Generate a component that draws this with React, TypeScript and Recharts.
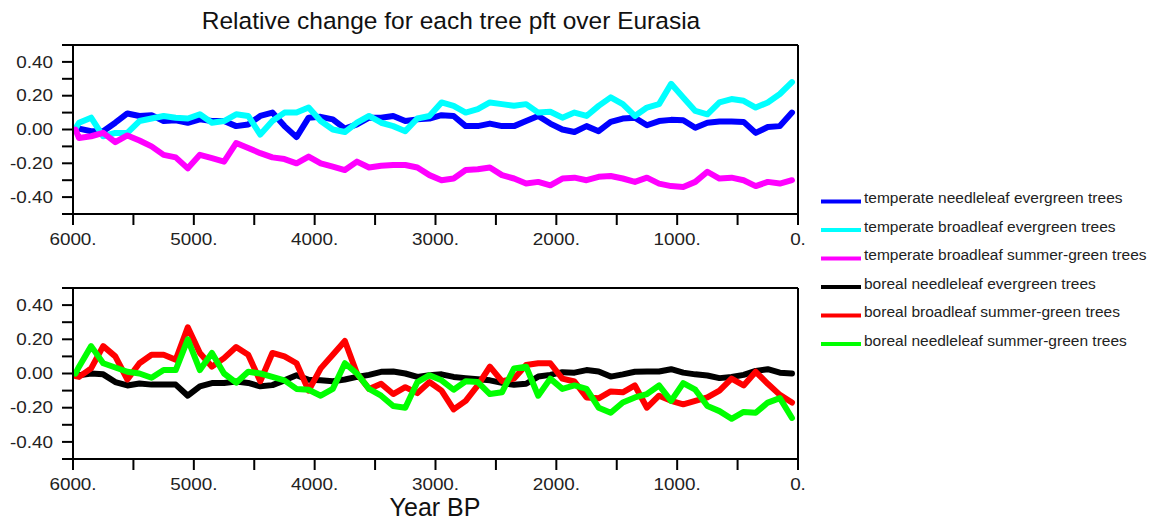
import React from 'react';
import { LineChart, Line, XAxis, YAxis } from 'recharts';

// Year BP sample positions (categories)
const years = [5980, 5950, 5850, 5750, 5650, 5550, 5450, 5350, 5250, 5150, 5050, 4950, 4850, 4750, 4650, 4550, 4450, 4350, 4250, 4150, 4050, 3950, 3850, 3750, 3650, 3550, 3450, 3350, 3250, 3150, 3050, 2950, 2850, 2750, 2650, 2550, 2450, 2350, 2250, 2150, 2050, 1950, 1850, 1750, 1650, 1550, 1450, 1350, 1250, 1150, 1050, 950, 850, 750, 650, 550, 450, 350, 250, 150, 50];

// Top panel series
const tempNeedleEvergreen = [0.005, 0.005, -0.01, -0.01, 0.04, 0.095, 0.08, 0.085, 0.05, 0.055, 0.04, 0.06, 0.05, 0.05, 0.02, 0.03, 0.08, 0.1, 0.02, -0.045, 0.07, 0.075, 0.06, 0.005, 0.03, 0.07, 0.07, 0.08, 0.05, 0.06, 0.065, 0.085, 0.08, 0.02, 0.02, 0.035, 0.02, 0.02, 0.05, 0.08, 0.035, 0.0, -0.015, 0.02, -0.01, 0.045, 0.065, 0.07, 0.025, 0.05, 0.057, 0.055, 0.01, 0.04, 0.047, 0.047, 0.045, -0.02, 0.015, 0.02, 0.1];
const tempBroadEvergreen = [0.005, 0.04, 0.07, -0.04, -0.02, -0.02, 0.05, 0.065, 0.08, 0.07, 0.065, 0.09, 0.04, 0.05, 0.09, 0.08, -0.03, 0.05, 0.1, 0.1, 0.13, 0.05, 0.0, -0.015, 0.04, 0.08, 0.04, 0.02, -0.01, 0.065, 0.08, 0.16, 0.14, 0.1, 0.12, 0.16, 0.15, 0.14, 0.15, 0.1, 0.105, 0.07, 0.1, 0.08, 0.14, 0.19, 0.15, 0.08, 0.13, 0.15, 0.27, 0.19, 0.11, 0.09, 0.16, 0.18, 0.17, 0.13, 0.16, 0.21, 0.28];
const tempBroadSummer = [0.0, -0.05, -0.04, -0.02, -0.075, -0.035, -0.065, -0.1, -0.15, -0.165, -0.23, -0.15, -0.17, -0.19, -0.08, -0.11, -0.14, -0.165, -0.175, -0.2, -0.16, -0.2, -0.22, -0.24, -0.19, -0.225, -0.215, -0.21, -0.21, -0.225, -0.27, -0.3, -0.29, -0.24, -0.235, -0.225, -0.27, -0.29, -0.32, -0.31, -0.33, -0.29, -0.285, -0.3, -0.28, -0.275, -0.29, -0.31, -0.285, -0.32, -0.335, -0.34, -0.31, -0.25, -0.29, -0.285, -0.3, -0.335, -0.31, -0.32, -0.3];

// Bottom panel series
const borealNeedleEvergreen = [-0.01, -0.01, 0.0, -0.005, -0.05, -0.07, -0.058, -0.065, -0.065, -0.065, -0.13, -0.075, -0.056, -0.055, -0.047, -0.055, -0.075, -0.068, -0.04, -0.01, -0.037, -0.04, -0.045, -0.035, -0.02, -0.008, 0.01, 0.012, 0.0, -0.02, -0.01, -0.005, -0.02, -0.027, -0.033, -0.04, -0.055, -0.066, -0.06, -0.018, -0.008, 0.008, 0.005, 0.02, 0.012, -0.018, -0.005, 0.01, 0.012, 0.012, 0.025, 0.005, -0.005, -0.012, -0.027, -0.02, -0.008, 0.015, 0.025, 0.005, 0.0];
const borealBroadSummer = [-0.015, -0.02, 0.03, 0.16, 0.1, -0.035, 0.06, 0.11, 0.11, 0.08, 0.27, 0.12, 0.04, 0.09, 0.155, 0.11, -0.045, 0.12, 0.1, 0.06, -0.1, 0.03, 0.11, 0.19, 0.0, -0.09, -0.06, -0.12, -0.08, -0.115, -0.05, -0.1, -0.21, -0.16, -0.07, 0.04, -0.045, -0.03, 0.05, 0.06, 0.06, -0.03, -0.047, -0.14, -0.145, -0.105, -0.11, -0.07, -0.2, -0.13, -0.16, -0.18, -0.16, -0.14, -0.1, -0.03, -0.07, 0.01, -0.06, -0.125, -0.17];
const borealNeedleSummer = [0.0, 0.04, 0.16, 0.06, 0.035, 0.01, 0.0, -0.025, 0.02, 0.02, 0.2, 0.02, 0.12, 0.0, -0.054, 0.01, 0.0, -0.02, -0.04, -0.09, -0.095, -0.13, -0.09, 0.06, 0.0, -0.09, -0.13, -0.19, -0.2, -0.05, -0.01, -0.04, -0.095, -0.045, -0.05, -0.12, -0.11, 0.03, 0.04, -0.13, -0.03, -0.09, -0.07, -0.09, -0.2, -0.23, -0.17, -0.14, -0.12, -0.07, -0.16, -0.056, -0.095, -0.19, -0.22, -0.265, -0.225, -0.23, -0.17, -0.144, -0.26];

const xTicks = [0, 500, 1000, 1500, 2000, 2500, 3000, 3500, 4000, 4500, 5000, 5500, 6000];
const yTicks = [-0.5, -0.4, -0.3, -0.2, -0.1, 0, 0.1, 0.2, 0.3, 0.4, 0.5];
const yLabelled = [-0.4, -0.2, 0, 0.2, 0.4];

const title = 'Relative change for each tree pft over Eurasia';
const xTitle = 'Year BP';

const topSeries = [
  { key: 'tne', name: 'temperate needleleaf evergreen trees', color: '#0000ff', values: tempNeedleEvergreen },
  { key: 'tbe', name: 'temperate broadleaf evergreen trees', color: '#00ffff', values: tempBroadEvergreen },
  { key: 'tbs', name: 'temperate broadleaf summer-green trees', color: '#ff00ff', values: tempBroadSummer },
];
const bottomSeries = [
  { key: 'bne', name: 'boreal needleleaf evergreen trees', color: '#000000', values: borealNeedleEvergreen },
  { key: 'bbs', name: 'boreal broadleaf summer-green trees', color: '#ff0000', values: borealBroadSummer },
  { key: 'bns', name: 'boreal needleleaf summer-green trees', color: '#00ff00', values: borealNeedleSummer },
];
const allSeries = [...topSeries, ...bottomSeries];

const data = years.map((year, i) => {
  const row: Record<string, number> = { year };
  allSeries.forEach((s) => {
    row[s.key] = s.values[i];
  });
  return row;
});

const FONT = '"Liberation Sans", Arial, Helvetica, sans-serif';
const TXT = '#222';

const fmtY = (v: number) => {
  const hit = yLabelled.some((t) => Math.abs(t - v) < 1e-6);
  if (!hit) return '';
  const r = Math.abs(v) < 1e-9 ? 0 : v;
  return r.toFixed(2);
};
const fmtX = (v: number) => (v % 1000 === 0 ? `${v}.` : '');

const YTick = (props: any) => {
  const { x, y, payload } = props;
  const lbl = fmtY(payload.value);
  if (!lbl) return <g />;
  return (
    <text transform={`translate(${x},${y}) scale(1.18,1)`} x={0} y={0} dy="0.36em" textAnchor="end" fontSize={16} fill={TXT} fontFamily={FONT}>
      {lbl}
    </text>
  );
};
const XTick = (props: any) => {
  const { x, y, payload } = props;
  const lbl = fmtX(payload.value);
  if (!lbl) return <g />;
  return (
    <text transform={`translate(${x},${y}) scale(1.18,1)`} x={0} y={0} dy="0.71em" textAnchor="middle" fontSize={16} fill={TXT} fontFamily={FONT}>
      {lbl}
    </text>
  );
};

const axisLine = { stroke: '#000', strokeWidth: 2 };
const tickLine = { stroke: '#000', strokeWidth: 2 };

function Panel({ series, top, marginTop, marginBottom }: { series: typeof topSeries; top: number; marginTop: number; marginBottom: number }) {
  return (
    <div style={{ position: 'absolute', left: 0, top }}>
      <LineChart width={830} height={260} data={data} margin={{ top: marginTop, right: 22, bottom: marginBottom, left: 10 }}>
        <XAxis xAxisId="b" dataKey="year" type="number" domain={[0, 6000]} reversed ticks={xTicks} interval={0} height={36} tickSize={11} tickMargin={9} axisLine={axisLine} tickLine={tickLine} tick={<XTick />} allowDataOverflow />
        <XAxis xAxisId="t" orientation="top" dataKey="year" type="number" domain={[0, 6000]} reversed ticks={xTicks} interval={0} height={12} tickSize={11} axisLine={axisLine} tickLine={tickLine} tick={false} allowDataOverflow />
        <YAxis yAxisId="l" type="number" domain={[-0.5, 0.5]} ticks={yTicks} interval={0} width={63} tickSize={11} tickMargin={9} axisLine={axisLine} tickLine={tickLine} tick={<YTick />} allowDataOverflow />
        <YAxis yAxisId="r" orientation="right" type="number" domain={[-0.5, 0.5]} ticks={yTicks} interval={0} width={10} tickSize={10} axisLine={axisLine} tickLine={tickLine} tick={false} allowDataOverflow />
        {series.map((s) => (
          <Line key={s.key} xAxisId="b" yAxisId="l" type="linear" dataKey={s.key} name={s.name} stroke={s.color} strokeWidth={6} strokeLinejoin="round" strokeLinecap="round" dot={false} activeDot={false} isAnimationActive={false} />
        ))}
      </LineChart>
    </div>
  );
}

export default function App() {
  return (
    <div style={{ position: 'absolute', left: 0, top: 0, width: 1166, height: 521, background: '#fff', overflow: 'hidden' }}>
      <Panel series={topSeries} top={0} marginTop={33} marginBottom={10} />
      <Panel series={bottomSeries} top={250} marginTop={26} marginBottom={15} />
      <svg width={1166} height={521} style={{ position: 'absolute', left: 0, top: 0, pointerEvents: 'none' }}>
        <text x={451} y={29} textAnchor="middle" fontSize={24.5} fill="#111" fontFamily={FONT}>
          {title}
        </text>
        <text x={435} y={516} textAnchor="middle" fontSize={25} fill="#111" fontFamily={FONT}>
          {xTitle}
        </text>
        {allSeries.map((s, i) => (
          <g key={s.key}>
            <line x1={821} x2={861} y1={201.5 + i * 28.5} y2={201.5 + i * 28.5} stroke={s.color} strokeWidth={4} />
            <text x={864} y={203 + i * 28.5} fontSize={15.5} fill={TXT} fontFamily={FONT}>
              {s.name}
            </text>
          </g>
        ))}
      </svg>
    </div>
  );
}
